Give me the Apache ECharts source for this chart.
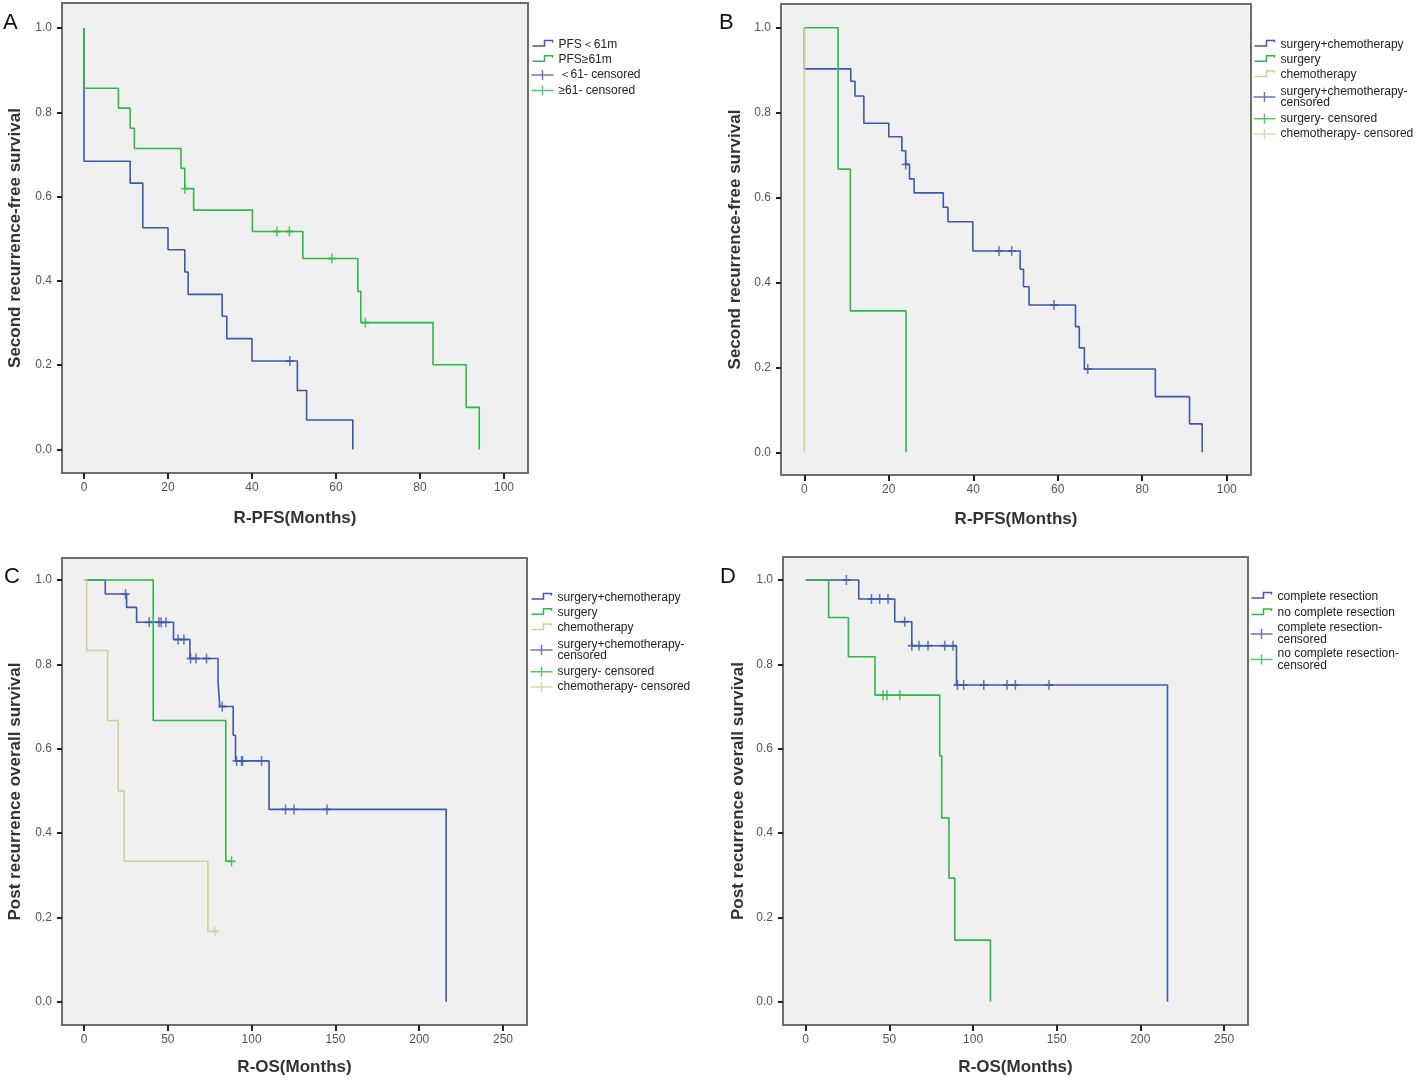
<!DOCTYPE html>
<html>
<head>
<meta charset="utf-8">
<title>Kaplan-Meier curves</title>
<script src="https://cdn.jsdelivr.net/npm/echarts@6/dist/echarts.min.js"></script>
<style>
  body { margin: 0; background: #fff; }
  #main { width: 1418px; height: 1080px; }
</style>
</head>
<body>
<div id="main"></div>
<script>
// ---- data (time in months, survival after the step) ----
// A: R-PFS by first PFS
var aLowSteps = [[0,1],[0,0.684],[11,0.632],[14,0.526],[20,0.474],[24,0.421],[24.8,0.368],[32.9,0.316],[34,0.263],[40,0.210],[50.8,0.140],[53,0.070],[64,0]];
var aLowCens = [[49,0.210]];
var aHighSteps = [[0,1],[0,0.857],[8.2,0.810],[11,0.762],[12,0.714],[23.1,0.667],[24,0.619],[26.1,0.568],[40.1,0.517],[52.1,0.453],[65.2,0.375],[65.9,0.301],[83.1,0.201],[91,0.100],[94.1,0]];
var aHighCens = [[24,0.619],[45.9,0.517],[48.9,0.517],[59,0.453],[67,0.301]];

// B: R-PFS by treatment
var bComboSteps = [[0,1],[0,0.903],[11,0.874],[12,0.839],[14.1,0.775],[20,0.743],[23.1,0.710],[24,0.678],[24.9,0.644],[26,0.611],[32.9,0.577],[34,0.543],[39.9,0.474],[51.1,0.431],[51.9,0.390],[53.2,0.347],[64.2,0.296],[65.1,0.246],[66.3,0.196],[83.1,0.131],[91.2,0.067],[94.2,0]];
var bComboCens = [[24,0.678],[46.1,0.474],[49.1,0.474],[59.1,0.347],[67.1,0.196]];
var bSurgSteps = [[0,1],[8,0.667],[10.9,0.333],[24.1,0]];
var bChemoSteps = [[0,1],[0,0]];

// C: R-OS by treatment
var cComboSteps = [[0,1],[12.7,0.967],[25.4,0.935],[31.4,0.900],[53.4,0.859],[63.2,0.814],[80,0.759],[81,0.700],[89,0.632],[90.4,0.571],[110.4,0.456],[216.1,0]];
var cComboCens = [[24.8,0.967],[38.9,0.900],[44.7,0.900],[46,0.900],[48.9,0.900],[56.2,0.859],[59.6,0.859],[63.6,0.814],[66.8,0.814],[73.1,0.814],[82.5,0.700],[91,0.571],[94,0.571],[94.6,0.571],[105.9,0.571],[120.2,0.456],[125.3,0.456],[145,0.456]];
var cSurgSteps = [[0,1],[41.3,0.667],[84.6,0.333],[88,0.333]];
var cSurgCens = [[88,0.333]];
var cChemoSteps = [[0,1],[1.6,0.833],[14.1,0.667],[20.4,0.5],[24,0.333],[73.9,0.167],[78.1,0.167]];
var cChemoCens = [[78.1,0.167]];

// D: R-OS by resection
var dCompSteps = [[0,1],[31.7,0.955],[53.2,0.901],[63.4,0.844],[90.1,0.751],[216.2,0]];
var dCompCens = [[24.3,1],[39.3,0.955],[44.2,0.955],[49.2,0.955],[59.2,0.901],[63.4,0.844],[67.7,0.844],[73.1,0.844],[83.1,0.844],[88,0.844],[90.7,0.751],[94.4,0.751],[106.4,0.751],[120.3,0.751],[125.3,0.751],[145.4,0.751]];
var dNoCompSteps = [[0,1],[13.7,0.911],[25.5,0.818],[41.4,0.727],[80.1,0.583],[81.3,0.436],[85.6,0.293],[89.1,0.146],[110.4,0]];
var dNoCompCens = [[46.2,0.727],[48.6,0.727],[56.2,0.727]];

var pfsTicks = [0, 20, 40, 60, 80, 100];
var osTicks = [0, 50, 100, 150, 200, 250];
var survTicks = [0, 0.2, 0.4, 0.6, 0.8, 1.0];

// ---- style ----
var BLUE = '#3E58AC', GREEN = '#2EB848', TAN = '#D3CE97';
var FONT = '"Liberation Sans", Arial, sans-serif';
var STEP_ICON = 'path://M0,0 M0,10 M0,6.5 L12,6.5 L12,1 L20,1 L20,3';
var CENS_ICON = 'path://M0,5 L22,5 M11,0 L11,10';
var CENS_MARK = 'path://M0,5 L10,5 M5,0 L5,10';

// legend text that wraps in the original
var wraps = {
  'surgery+chemotherapy- censored': 'surgery+chemotherapy-\ncensored',
  'complete resection- censored': 'complete resection-\ncensored',
  'no complete resection- censored': 'no complete resection-\ncensored'
};

var chart = echarts.init(document.getElementById('main'));

function grid(left, top, right, bottom) {
  return {
    left: left, top: top, width: right - left, height: bottom - top,
    show: true, backgroundColor: '#f0f0f0', borderColor: '#6e6e6e', borderWidth: 2,
    outerBoundsMode: 'none', containLabel: false
  };
}

function xAxis(gi, min, max, ticks, name, gap) {
  return {
    type: 'value', gridIndex: gi, min: min, max: max,
    axisLine: { show: false, onZero: false },
    axisTick: { show: true, length: 6, customValues: ticks, lineStyle: { color: '#222', width: 2 } },
    axisLabel: { customValues: ticks, margin: 9, color: '#555', fontSize: 12, fontFamily: FONT },
    splitLine: { show: false },
    name: name, nameLocation: 'middle', nameGap: gap,
    nameTextStyle: { fontSize: 17, fontWeight: 'bold', color: '#333', fontFamily: FONT }
  };
}

function yAxis(gi, min, max, name, gap) {
  return {
    type: 'value', gridIndex: gi, min: min, max: max,
    axisLine: { show: false, onZero: false },
    axisTick: { show: true, length: 5, customValues: survTicks, lineStyle: { color: '#222', width: 2 } },
    axisLabel: { customValues: survTicks, margin: 10, color: '#555', fontSize: 12, fontFamily: FONT,
      formatter: function (v) { return v.toFixed(1); } },
    splitLine: { show: false },
    name: name, nameLocation: 'middle', nameGap: gap,
    nameTextStyle: { fontSize: 17, fontWeight: 'bold', color: '#333', fontFamily: FONT }
  };
}

function steps(gi, name, data, color) {
  return {
    type: 'line', name: name, xAxisIndex: gi, yAxisIndex: gi, data: data,
    step: 'end', symbol: 'none', color: color,
    lineStyle: { color: color, width: 1.6 }, silent: true
  };
}

function cens(gi, name, data, color) {
  return {
    type: 'scatter', name: name, xAxisIndex: gi, yAxisIndex: gi, data: data,
    symbol: CENS_MARK, symbolSize: [8, 10], color: color,
    itemStyle: { color: 'none', borderColor: color, borderWidth: 1.7 }, silent: true
  };
}

// multi-line legend items get their own line height and padding
function legend(left, top, gap, multiLH, multiPad, items) {
  return {
    orient: 'vertical', left: left, top: top, itemWidth: 22, itemHeight: 10, itemGap: gap,
    selectedMode: false, padding: 0,
    formatter: function (n) { return wraps[n] || n; },
    textStyle: { fontSize: 12, color: '#222', fontFamily: FONT, lineHeight: 11 },
    data: items.map(function (it) {
      var d = { name: it[0], icon: it[2] ? CENS_ICON : STEP_ICON,
        itemStyle: { color: 'none', borderColor: it[1], borderWidth: 1.5 } };
      if (wraps[it[0]]) {
        d.textStyle = { fontSize: 12, color: '#222', fontFamily: FONT, lineHeight: multiLH, padding: [multiPad, 0, multiPad, 0] };
      }
      return d;
    })
  };
}

var option = {
  animation: false,
  backgroundColor: '#fff',
  grid: [
    grid(62, 3, 528, 473),
    grid(781, 4, 1251, 475),
    grid(62, 558, 527, 1025),
    grid(783, 557, 1248, 1025)
  ],
  xAxis: [
    xAxis(0, -5.24, 105.71, pfsTicks, 'R-PFS(Months)', 37),
    xAxis(1, -5.52, 105.75, pfsTicks, 'R-PFS(Months)', 36),
    xAxis(2, -13.12, 264.3, osTicks, 'R-OS(Months)', 34),
    xAxis(3, -13.57, 264.3, osTicks, 'R-OS(Months)', 34)
  ],
  yAxis: [
    yAxis(0, -0.0558, 1.0593, 'Second recurrence-free survival', 38),
    yAxis(1, -0.0535, 1.0558, 'Second recurrence-free survival', 37),
    yAxis(2, -0.0553, 1.0522, 'Post recurrence overall survival', 38),
    yAxis(3, -0.0553, 1.0546, 'Post recurrence overall survival', 36)
  ],
  legend: [
    legend(529, 37, 0.3, 11, 0, [['PFS＜61m', BLUE], ['PFS≥61m', GREEN], ['＜61- censored', BLUE, 1], ['≥61- censored', GREEN, 1]]),
    legend(1251, 37, 0.3, 11, 3, [['surgery+chemotherapy', BLUE], ['surgery', GREEN], ['chemotherapy', TAN],
      ['surgery+chemotherapy- censored', BLUE, 1], ['surgery- censored', GREEN, 1], ['chemotherapy- censored', TAN, 1]]),
    legend(528, 590, 0.3, 11, 3, [['surgery+chemotherapy', BLUE], ['surgery', GREEN], ['chemotherapy', TAN],
      ['surgery+chemotherapy- censored', BLUE, 1], ['surgery- censored', GREEN, 1], ['chemotherapy- censored', TAN, 1]]),
    legend(1248, 589, 1.5, 12, 0, [['complete resection', BLUE], ['no complete resection', GREEN],
      ['complete resection- censored', BLUE, 1], ['no complete resection- censored', GREEN, 1]])
  ],
  graphic: [
    { type: 'text', left: 3, top: 12, style: { text: 'A', fontSize: 22, fill: '#111', fontFamily: FONT } },
    { type: 'text', left: 719, top: 12, style: { text: 'B', fontSize: 22, fill: '#111', fontFamily: FONT } },
    { type: 'text', left: 4, top: 566, style: { text: 'C', fontSize: 22, fill: '#111', fontFamily: FONT } },
    { type: 'text', left: 720, top: 566, style: { text: 'D', fontSize: 22, fill: '#111', fontFamily: FONT } }
  ],
  series: [
    steps(0, 'PFS＜61m', aLowSteps, BLUE),
    steps(0, 'PFS≥61m', aHighSteps, GREEN),
    cens(0, '＜61- censored', aLowCens, BLUE),
    cens(0, '≥61- censored', aHighCens, GREEN),

    steps(1, 'surgery+chemotherapy', bComboSteps, BLUE),
    steps(1, 'surgery', bSurgSteps, GREEN),
    steps(1, 'chemotherapy', bChemoSteps, TAN),
    cens(1, 'surgery+chemotherapy- censored', bComboCens, BLUE),

    steps(2, 'surgery+chemotherapy', cComboSteps, BLUE),
    steps(2, 'surgery', cSurgSteps, GREEN),
    steps(2, 'chemotherapy', cChemoSteps, TAN),
    cens(2, 'surgery+chemotherapy- censored', cComboCens, BLUE),
    cens(2, 'surgery- censored', cSurgCens, GREEN),
    cens(2, 'chemotherapy- censored', cChemoCens, TAN),

    steps(3, 'complete resection', dCompSteps, BLUE),
    steps(3, 'no complete resection', dNoCompSteps, GREEN),
    cens(3, 'complete resection- censored', dCompCens, BLUE),
    cens(3, 'no complete resection- censored', dNoCompCens, GREEN)
  ]
};

chart.setOption(option);
</script>
</body>
</html>
